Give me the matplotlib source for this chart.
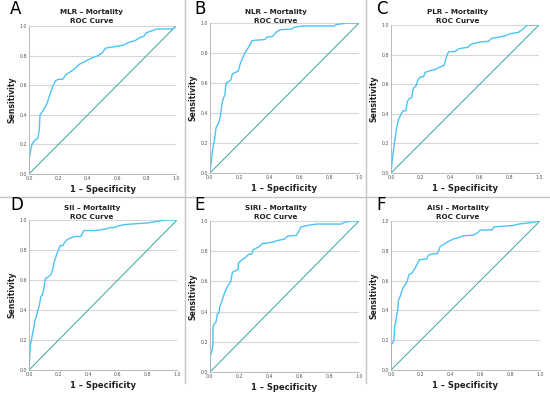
import numpy as np
import matplotlib.pyplot as plt
from matplotlib.lines import Line2D

# %%
panel_letters = ['A', 'B', 'C', 'D', 'E', 'F']
panel_names = ['MLR', 'NLR', 'PLR', 'SII', 'SIRI', 'AISI']

mlr_fpr = [0, 0, 0.005, 0.02, 0.04, 0.06, 0.07, 0.075, 0.09, 0.12, 0.14, 0.16, 0.18, 0.20, 0.23, 0.25, 0.28, 0.31,
           0.34, 0.38, 0.42, 0.47, 0.50, 0.52, 0.58, 0.64, 0.68, 0.72, 0.75, 0.78, 0.80, 0.87, 0.98, 1.0]
mlr_tpr = [0, 0.08, 0.13, 0.20, 0.23, 0.24, 0.30, 0.40, 0.42, 0.47, 0.53, 0.59, 0.63, 0.64, 0.64, 0.67, 0.69, 0.71,
           0.74, 0.76, 0.78, 0.80, 0.82, 0.85, 0.86, 0.87, 0.89, 0.90, 0.92, 0.93, 0.955, 0.98, 0.98, 1.0]

nlr_fpr = [0, 0.01, 0.02, 0.03, 0.04, 0.06, 0.07, 0.08, 0.09, 0.10, 0.105, 0.11, 0.14, 0.15, 0.17, 0.19, 0.20, 0.22,
           0.24, 0.26, 0.28, 0.30, 0.37, 0.38, 0.42, 0.44, 0.47, 0.55, 0.56, 0.62, 0.83, 0.85, 0.92, 1.0]
nlr_tpr = [0, 0.10, 0.17, 0.22, 0.30, 0.34, 0.38, 0.46, 0.50, 0.52, 0.58, 0.60, 0.62, 0.66, 0.67, 0.68, 0.72, 0.77,
           0.81, 0.84, 0.88, 0.885, 0.89, 0.905, 0.91, 0.935, 0.955, 0.96, 0.97, 0.98, 0.98, 0.99, 1.0, 1.0]

plr_fpr = [0, 0.01, 0.02, 0.03, 0.04, 0.05, 0.06, 0.08, 0.10, 0.11, 0.12, 0.14, 0.15, 0.17, 0.18, 0.20, 0.22, 0.23,
           0.26, 0.30, 0.34, 0.36, 0.37, 0.38, 0.39, 0.43, 0.46, 0.52, 0.54, 0.60, 0.66, 0.68, 0.74, 0.78, 0.80,
           0.86, 0.89, 0.92, 1.0]
plr_tpr = [0, 0.10, 0.18, 0.25, 0.315, 0.36, 0.38, 0.42, 0.42, 0.48, 0.50, 0.51, 0.57, 0.59, 0.626, 0.65, 0.65, 0.68,
           0.69, 0.70, 0.72, 0.73, 0.77, 0.80, 0.82, 0.82, 0.84, 0.85, 0.87, 0.885, 0.89, 0.91, 0.92, 0.93, 0.94,
           0.95, 0.97, 1.0, 1.0]

sii_fpr = [0, 0.005, 0.01, 0.02, 0.03, 0.04, 0.05, 0.06, 0.07, 0.08, 0.09, 0.10, 0.11, 0.13, 0.15, 0.16, 0.17, 0.19,
           0.20, 0.21, 0.23, 0.24, 0.26, 0.28, 0.31, 0.35, 0.37, 0.45, 0.52, 0.55, 0.58, 0.60, 0.65, 0.72, 0.80,
           0.86, 0.92, 1.0]
sii_tpr = [0, 0.10, 0.17, 0.22, 0.27, 0.33, 0.36, 0.40, 0.43, 0.49, 0.50, 0.54, 0.61, 0.62, 0.64, 0.67, 0.72, 0.78,
           0.80, 0.83, 0.83, 0.85, 0.87, 0.88, 0.89, 0.89, 0.93, 0.93, 0.94, 0.95, 0.95, 0.96, 0.97, 0.975, 0.98,
           0.99, 1.0, 1.0]

siri_fpr = [0, 0, 0.01, 0.02, 0.02, 0.03, 0.04, 0.05, 0.06, 0.065, 0.08, 0.09, 0.10, 0.12, 0.14, 0.15, 0.17, 0.19,
            0.19, 0.21, 0.24, 0.26, 0.28, 0.29, 0.31, 0.33, 0.35, 0.42, 0.45, 0.50, 0.52, 0.58, 0.60, 0.61, 0.65,
            0.72, 0.88, 0.90, 0.94, 1.0]
siri_tpr = [0, 0.10, 0.13, 0.18, 0.30, 0.32, 0.33, 0.386, 0.39, 0.43, 0.47, 0.50, 0.53, 0.57, 0.60, 0.66, 0.67, 0.68,
            0.72, 0.74, 0.76, 0.78, 0.78, 0.81, 0.82, 0.83, 0.85, 0.86, 0.87, 0.88, 0.90, 0.905, 0.94, 0.96, 0.97,
            0.98, 0.98, 0.99, 1.0, 1.0]

aisi_fpr = [0, 0, 0.01, 0.02, 0.025, 0.03, 0.04, 0.045, 0.05, 0.06, 0.07, 0.08, 0.10, 0.11, 0.12, 0.14, 0.16, 0.17,
            0.19, 0.24, 0.25, 0.28, 0.31, 0.32, 0.33, 0.35, 0.38, 0.42, 0.46, 0.48, 0.55, 0.58, 0.60, 0.68, 0.69,
            0.75, 0.82, 0.86, 0.95, 1.0]
aisi_tpr = [0, 0.17, 0.18, 0.20, 0.30, 0.31, 0.38, 0.40, 0.47, 0.49, 0.52, 0.55, 0.58, 0.60, 0.64, 0.65, 0.68, 0.70,
            0.74, 0.745, 0.77, 0.78, 0.78, 0.80, 0.83, 0.84, 0.86, 0.88, 0.89, 0.90, 0.905, 0.92, 0.94, 0.94, 0.96,
            0.965, 0.97, 0.98, 0.99, 1.0]

curves = [(mlr_fpr, mlr_tpr), (nlr_fpr, nlr_tpr), (plr_fpr, plr_tpr),
          (sii_fpr, sii_tpr), (siri_fpr, siri_tpr), (aisi_fpr, aisi_tpr)]

tick_values = [0.0, 0.2, 0.4, 0.6, 0.8, 1.0]

# %%
W, H = 550, 394
# axes boxes in pixels: left, top, right, bottom
boxes = [(29, 26, 176, 174), (210, 23, 359, 173), (391, 25, 539, 173),
         (29, 220, 177, 370), (210, 221, 359, 372), (391, 221, 540, 370)]
panel_x0 = [0, 184, 366, 0, 184, 366]
panel_y0 = [0, 0, 0, 196, 196, 196]

curve_color = '#4cc3f5'
diag_color = '#35a89f'

fig = plt.figure(figsize=(W / 100, H / 100), dpi=100)

for i, (fpr, tpr) in enumerate(curves):
    l, t, r, b = boxes[i]
    ax = fig.add_axes([l / W, 1 - b / H, (r - l) / W, (b - t) / H])
    ax.plot([0, 1], [0, 1], color=diag_color, lw=0.7)
    ax.plot(fpr, tpr, color=curve_color, lw=1.0)
    ax.set_xlim(0, 1)
    ax.set_ylim(0, 1)
    ax.set_xticks(tick_values)
    ax.set_yticks(tick_values)
    ax.set_xticklabels([f'{v:.1f}' for v in tick_values], fontsize=3.4, color='#555555')
    ax.set_yticklabels([f'{v:.1f}' for v in tick_values], fontsize=3.4, color='#555555')
    ax.tick_params(length=0, pad=1.5)
    ax.grid(axis='y', color='#d6d6d6', lw=0.8)
    ax.set_axisbelow(True)
    for side in ['top', 'right']:
        ax.spines[side].set_visible(False)
    for side in ['left', 'bottom']:
        ax.spines[side].set_color('#b0b0b0')
        ax.spines[side].set_linewidth(0.6)

    cx = panel_x0[i] + 92
    fig.text(cx / W, 1 - (panel_y0[i] + 12) / H, f'{panel_names[i]} – Mortality',
             ha='center', va='center', fontsize=5.2, fontweight='bold', color='#222222')
    fig.text(cx / W, 1 - (panel_y0[i] + 21) / H, 'ROC Curve',
             ha='center', va='center', fontsize=5.2, fontweight='bold', color='#222222')
    fig.text((panel_x0[i] + 10) / W, 1 - (panel_y0[i] + 9) / H, panel_letters[i],
             ha='left', va='center', fontsize=12, color='black')
    fig.text(((l + r) / 2) / W, 1 - (b + 16) / H, '1 – Specificity',
             ha='center', va='center', fontsize=6, fontweight='bold', color='#222222')
    fig.text((l - 17) / W, 1 - ((t + b) / 2) / H, 'Sensitivity', rotation=90,
             ha='center', va='center', fontsize=5.6, fontweight='bold', color='#222222')

# panel separators
sep = dict(color='#c4c4c4', lw=1.0, transform=fig.transFigure)
fig.add_artist(Line2D([184.5 / W, 184.5 / W], [1 - 383 / H, 1], **sep))
fig.add_artist(Line2D([365.5 / W, 365.5 / W], [1 - 383 / H, 1], **sep))
fig.add_artist(Line2D([0, 1], [1 - 196.5 / H, 1 - 196.5 / H], **sep))

fig.savefig('out.png', dpi=100)
